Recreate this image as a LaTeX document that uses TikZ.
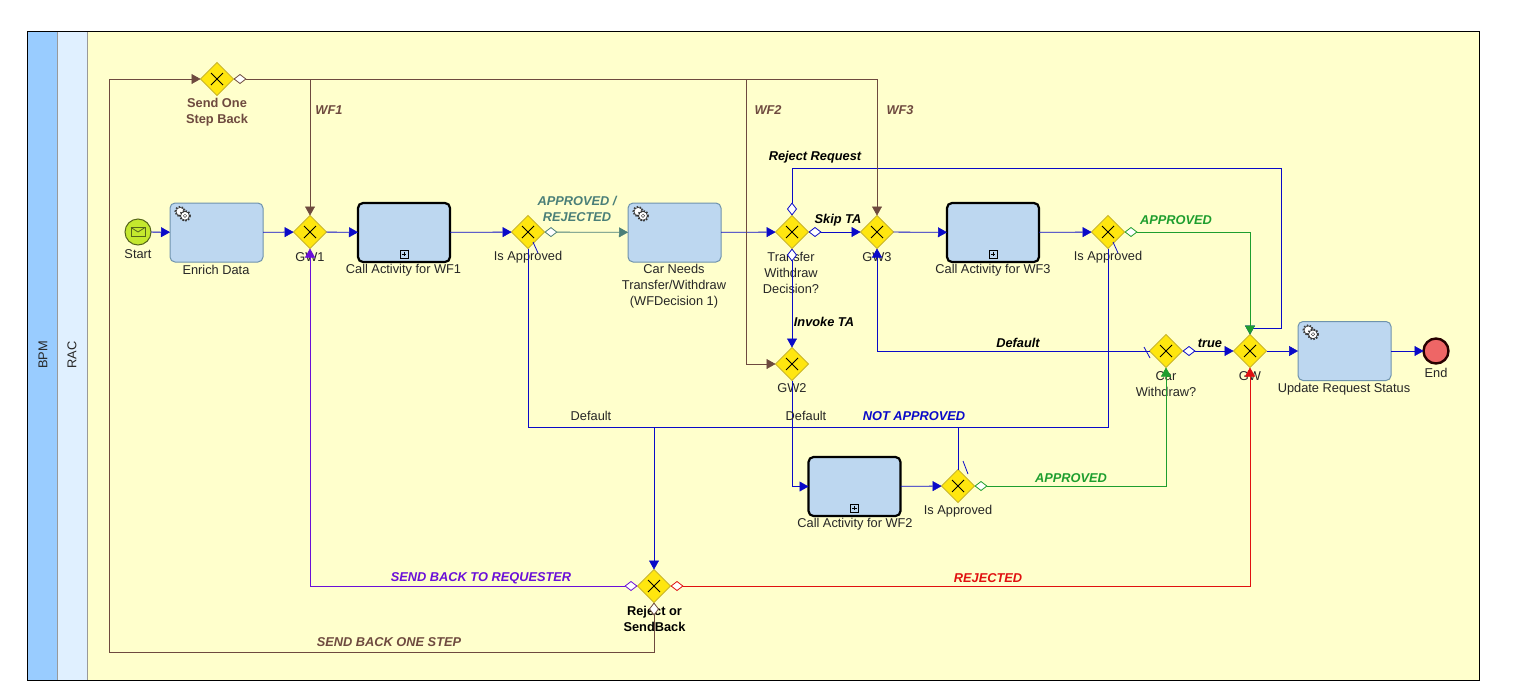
\documentclass[tikz,border=0pt]{standalone}
\usepackage{fontspec}
\setmainfont{Liberation Sans}
\usetikzlibrary{shapes.geometric,arrows.meta,calc}
\definecolor{flowblue}{HTML}{0A0AC8}
\definecolor{flowbrown}{HTML}{6E4A3F}
\definecolor{flowgreen}{HTML}{1E9E2E}
\definecolor{flowred}{HTML}{E01010}
\definecolor{flowpurple}{HTML}{6A0FD8}
\definecolor{flowteal}{HTML}{4A7F78}
\definecolor{gatefill}{HTML}{FFE60F}
\definecolor{gateline}{HTML}{C9B62A}
\definecolor{taskfill}{HTML}{BDD7F0}
\definecolor{taskline}{HTML}{6F93AD}
\definecolor{lanebg}{HTML}{FFFFCC}
\definecolor{poolband}{HTML}{99CCFF}
\definecolor{laneband}{HTML}{E0F0FF}
\definecolor{startfill}{HTML}{C4E82E}
\definecolor{startline}{HTML}{55661A}
\definecolor{endfill}{HTML}{EE6666}
\tikzset{
  gate/.style={diamond,draw=gateline,fill=gatefill,line width=0.8pt,minimum width=33pt,minimum height=33pt,inner sep=0pt,outer sep=0pt,
    path picture={\draw[black,line width=0.9pt] ($(path picture bounding box.center)+(-6,-6)$) -- ($(path picture bounding box.center)+(6,6)$) ($(path picture bounding box.center)+(-6,6)$) -- ($(path picture bounding box.center)+(6,-6)$);}},
  taskbox/.style={draw=taskline,fill=taskfill,rounded corners=5pt,line width=1pt,minimum width=93pt,minimum height=59pt,inner sep=0pt,outer sep=0pt},
  callbox/.style={draw=black,fill=taskfill,rounded corners=5pt,line width=2.2pt,minimum width=92pt,minimum height=59pt,inner sep=0pt,outer sep=0pt},
  lbl/.style={font=\fontsize{12.8}{16}\selectfont,align=center,text=black!85,inner sep=0pt},
  blbl/.style={font=\fontsize{12.8}{16}\selectfont\bfseries,align=center,inner sep=0pt},
  tag/.style={font=\fontsize{12.8}{16}\selectfont\bfseries\itshape,align=center,inner sep=0pt},
  flow/.style={draw=#1,line width=0.8pt,-{Triangle[length=9pt,width=10pt,line width=0.5pt]}},
  cond/.style={draw=#1,line width=0.8pt,{Diamond[fill=white,length=13pt,width=10pt,line width=0.8pt]}-{Triangle[length=9pt,width=10pt,line width=0.5pt]}},
  plain/.style={draw=#1,line width=0.8pt},
  slash/.style={draw=flowblue,line width=0.8pt},
  gearicon/.pic={
    \draw[black!75,fill=white,line width=0.6pt] (-2.8,-2.4) circle (4.2);
    \draw[black!75,line width=1.7pt,dash pattern=on 1.5pt off 1.5pt] (-2.8,-2.4) circle (4.9);
    \draw[black!80,fill=white,line width=0.6pt] (2,1.8) circle (4.4);
    \draw[black!80,line width=1.7pt,dash pattern=on 1.5pt off 1.5pt] (2,1.8) circle (5.1);
    \draw[black!70,fill=white,line width=0.5pt] (2,1.8) circle (1.7);
  },
  plusicon/.pic={
    \draw[black,fill=taskfill,line width=0.7pt] (-4,-4) rectangle (4,4);
    \draw[black,line width=0.7pt] (-2.4,0) -- (2.4,0) (0,-2.4) -- (0,2.4);
  }
}
\begin{document}
\begin{tikzpicture}[x=1pt,y=-1pt]
\useasboundingbox (0,0) rectangle (1536,681);
\fill[white] (0,0) rectangle (1536,681);
% pool and lane
\draw[fill=lanebg,draw=black,line width=0.9pt] (27,31) rectangle (1479,680);
\draw[fill=poolband,draw=black!60,line width=0.6pt] (27,31) rectangle (57,680);
\draw[fill=laneband,draw=black!40,line width=0.6pt] (57,31) rectangle (87,680);
\draw[draw=black,line width=0.9pt] (27,31) rectangle (1479,680);
\node[lbl,rotate=90] (bpm) at (43,355) {BPM};
\node[lbl,rotate=90] (rac) at (72,355) {RAC};
% events
\node[circle,draw=startline,fill=startfill,line width=1pt,minimum size=26pt,inner sep=0pt,outer sep=0pt] (start) at (138,232) {};
\draw[draw=startline,fill=startfill,line width=0.8pt] ($(start)+(-7,-4.5)$) rectangle ($(start)+(7,4.5)$);
\draw[draw=startline,line width=0.8pt] ($(start)+(-7,-4.5)$) -- (start.center) -- ($(start)+(7,-4.5)$);
\node[circle,draw=black!85!red,fill=endfill,line width=2.4pt,minimum size=25pt,inner sep=0pt,outer sep=0pt] (finish) at (1436,351) {};
% tasks
\node[taskbox] (enrich) at (216.5,232.5) {};
\node[callbox] (call1) at (404,232.5) {};
\node[taskbox] (carneeds) at (674.5,232.5) {};
\node[callbox] (call3) at (993,232.5) {};
\node[callbox] (call2) at (854.5,486.5) {};
\node[taskbox] (update) at (1344.5,351) {};
\pic at ($(enrich.north west)+(13,11)$) {gearicon};
\pic at ($(carneeds.north west)+(13,11)$) {gearicon};
\pic at ($(update.north west)+(13,11)$) {gearicon};
\pic at ($(call1.south)+(0,-8)$) {plusicon};
\pic at ($(call3.south)+(0,-8)$) {plusicon};
\pic at ($(call2.south)+(0,-8)$) {plusicon};
% gateways
\node[gate] (sendone) at (217,79) {};
\node[gate] (gwa) at (310,232) {};
\node[gate] (isa) at (528,232) {};
\node[gate] (transfer) at (792,232) {};
\node[gate] (gwc) at (877,232) {};
\node[gate] (isc) at (1108,232) {};
\node[gate] (gwb) at (792,364) {};
\node[gate] (carw) at (1166,351) {};
\node[gate] (gw) at (1250,351) {};
\node[gate] (isb) at (958,486) {};
\node[gate] (reject) at (654,586) {};
% node captions
\node[lbl] (t1) at (138,254) {Start};
\node[lbl] (t2) at (216,270) {Enrich Data};
\node[lbl] (t3) at (310,257) {GW1};
\node[lbl] (t4) at (403.5,270) {Call Activity for WF1};
\node[lbl] (t5) at (528,257) {Is Approved};
\node[lbl] (t6) at (674,286) {Car Needs\\Transfer/Withdraw\\(WFDecision 1)};
\node[lbl] (t7) at (791,273) {Transfer\\Withdraw\\Decision?};
\node[lbl] (t8) at (877,257) {GW3};
\node[lbl] (t9) at (993,270) {Call Activity for WF3};
\node[lbl] (t10) at (1108,257) {Is Approved};
\node[lbl] (t11) at (792,388) {GW2};
\node[lbl] (t12) at (855,524) {Call Activity for WF2};
\node[lbl] (t13) at (958,511) {Is Approved};
\node[lbl] (t14) at (1166,384) {Car\\Withdraw?};
\node[lbl] (t15) at (1250,376) {GW};
\node[lbl] (t16) at (1344,389) {Update Request Status};
\node[lbl] (t17) at (1436,373) {End};
\node[blbl,text=black] (t18) at (654.5,619) {Reject or\\SendBack};
\node[blbl,text=flowbrown] (t19) at (217,112) {Send One\\Step Back};
% bends
\coordinate (topa) at (1281,168);
\coordinate (topb) at (1281,328);
\coordinate (greenc) at (1250,232);
\coordinate (junction) at (654,427);
\coordinate (brownbl) at (109,652);
\coordinate (browntl) at (109,79);
\coordinate (brownr) at (877,79);
\coordinate (browna) at (310,79);
\coordinate (brownb) at (746,79);
\coordinate (brownc) at (746,364);
% blue flows
\draw[flow=flowblue] (start) -- (enrich);
\draw[flow=flowblue] (enrich) -- (gwa);
\draw[flow=flowblue] (gwa) -- (call1);
\draw[flow=flowblue] (call1) -- (isa);
\draw[flow=flowblue] (carneeds) -- (transfer);
\draw[cond=flowblue] (transfer) -- (gwc);
\draw[flow=flowblue] (gwc) -- (call3);
\draw[flow=flowblue] (call3) -- (isc);
\draw[cond=flowblue] (transfer.north) |- (topa) -- (topb) -| (gw.north);
\draw[cond=flowblue] (transfer.south) -- (gwb.north);
\draw[flow=flowblue] (gwb.south) |- (call2.west);
\draw[flow=flowblue] (call2) -- (isb);
\draw[flow=flowblue] (carw.west) -| (gwc.south);
\draw[cond=flowblue] (carw) -- (gw);
\draw[flow=flowblue] (gw) -- (update);
\draw[flow=flowblue] (update) -- (finish);
\draw[flow=flowblue] (isc.south) |- (junction) -- (reject.north);
\draw[plain=flowblue] (isa.south) |- (junction);
\draw[plain=flowblue] (isb.north) |- (junction);
% coloured flows
\draw[cond=flowteal] (isa) -- (carneeds);
\draw[cond=flowgreen] (isc.east) -- (greenc) -- (gw.north);
\draw[cond=flowgreen] (isb.east) -| (carw.south);
\draw[cond=flowred] (reject.east) -| (gw.south);
\draw[cond=flowpurple] (reject.west) -| (gwa.south);
\draw[cond=flowbrown] (reject.south) |- (brownbl) -- (browntl) -- (sendone.west);
\draw[cond=flowbrown] (sendone.east) -- (brownr) -- (gwc.north);
\draw[flow=flowbrown] (browna) -- (gwa.north);
\draw[flow=flowbrown] (brownb) -- (brownc) -- (gwb.west);
% default marks
\draw[slash] ($(isa)+(5,10)$) -- ($(isa)+(10,21)$);
\draw[slash] ($(isc)+(5,10)$) -- ($(isc)+(10,21)$);
\draw[slash] ($(isb)+(5,-25)$) -- ($(isb)+(10,-12)$);
\draw[slash] ($(carw)+(-22,-4)$) -- ($(carw)+(-16,7)$);
% connector labels
\node[tag,text=flowbrown] (l1) at (329,110) {WF1};
\node[tag,text=flowbrown] (l2) at (768,110) {WF2};
\node[tag,text=flowbrown] (l3) at (900,110) {WF3};
\node[tag,text=black] (l4) at (815,157) {Reject Request};
\node[tag,text=black] (l5) at (838,220) {Skip TA};
\node[tag,text=black] (l6) at (824,322) {Invoke TA};
\node[tag,text=black] (l7) at (1018,343) {Default};
\node[tag,text=black] (l8) at (1210,343) {true};
\node[tag,text=flowblue] (l9) at (914,416) {NOT APPROVED};
\node[tag,text=flowgreen] (l10) at (1176,220) {APPROVED};
\node[tag,text=flowgreen] (l11) at (1071,478) {APPROVED};
\node[tag,text=flowred] (l12) at (988,578) {REJECTED};
\node[tag,text=flowpurple] (l13) at (481,578) {SEND BACK TO REQUESTER};
\node[tag,text=flowbrown] (l14) at (389,642) {SEND BACK ONE STEP};
\node[tag,text=flowteal] (l15) at (577,209) {APPROVED /\\REJECTED};
\node[lbl] (l16) at (591,416) {Default};
\node[lbl] (l17) at (806,416) {Default};
\end{tikzpicture}
\end{document}
